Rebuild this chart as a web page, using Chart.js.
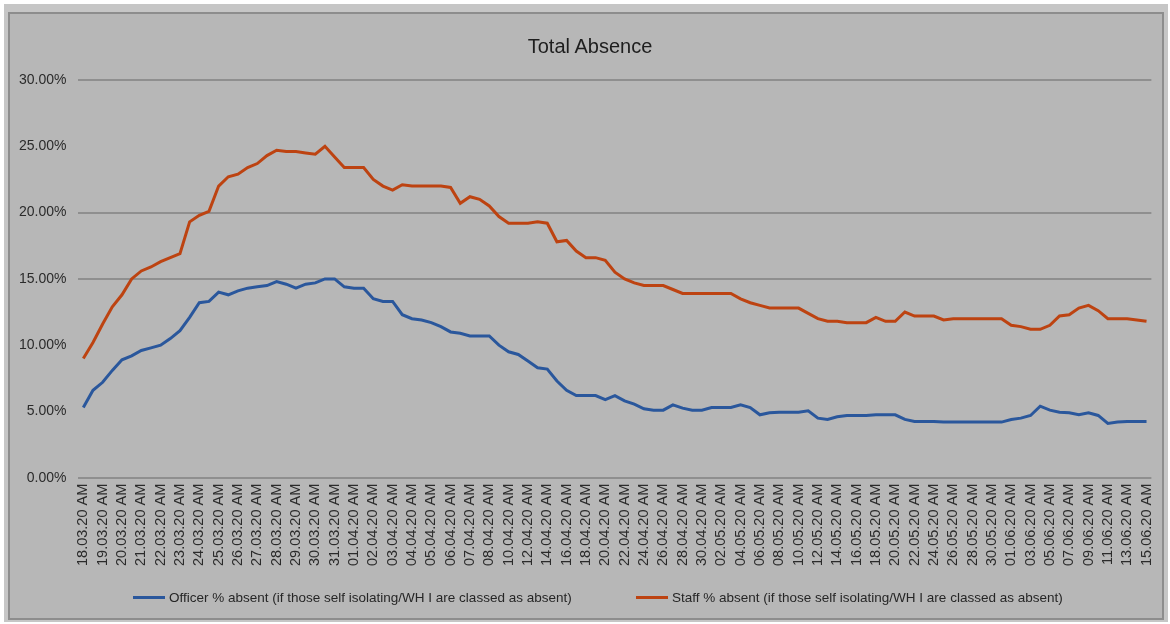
<!DOCTYPE html>
<html>
<head>
<meta charset="utf-8">
<title>Total Absence</title>
<script src="https://cdn.jsdelivr.net/npm/chart.js@4.4.1/dist/chart.umd.min.js"></script>
<style>
    html, body { margin: 0; padding: 0; background: #ffffff; }
    .page { position: relative; width: 1170px; height: 624px; overflow: hidden; font-family: "Liberation Sans", Arial, sans-serif; }
    .outer { position: absolute; left: 4px; top: 4px; width: 1164px; height: 618px; background: #c6c6c6; }
    .frame { position: absolute; left: 8px; top: 12px; width: 1152px; height: 604px; background: #b7b7b7; border: 2px solid #8d8d8d; }
    canvas { position: absolute; left: 0; top: 0; }
    .chart-title { position: absolute; left: 390px; width: 400px; top: 34px; text-align: center; font-size: 20px; line-height: 24px; color: #1e1e1e; }
    .legend { position: absolute; top: 589px; left: 0; height: 16px; font-size: 13.5px; color: #262626; white-space: nowrap; }
    .legend-item { position: absolute; top: 0; display: flex; align-items: center; height: 16px; }
    .legend-swatch { display: inline-block; width: 32px; height: 3px; margin-right: 4px; }
</style>
</head>
<body>
<div class="page">
    <div class="outer"></div>
    <div class="frame"></div>
    <canvas id="absenceChart" width="1170" height="624"></canvas>
    <div class="chart-title" id="chartTitle"></div>
    <div class="legend" id="legend"></div>
</div>
<script>
/* global Chart */

const chartTitle = 'Total Absence';

const tickLabels = [
    '18.03.20 AM', '19.03.20 AM', '20.03.20 AM', '21.03.20 AM', '22.03.20 AM', '23.03.20 AM', '24.03.20 AM',
    '25.03.20 AM', '26.03.20 AM', '27.03.20 AM', '28.03.20 AM', '29.03.20 AM', '30.03.20 AM', '31.03.20 AM',
    '01.04.20 AM', '02.04.20 AM', '03.04.20 AM', '04.04.20 AM', '05.04.20 AM', '06.04.20 AM', '07.04.20 AM',
    '08.04.20 AM', '10.04.20 AM', '12.04.20 AM', '14.04.20 AM', '16.04.20 AM', '18.04.20 AM', '20.04.20 AM',
    '22.04.20 AM', '24.04.20 AM', '26.04.20 AM', '28.04.20 AM', '30.04.20 AM', '02.05.20 AM', '04.05.20 AM',
    '06.05.20 AM', '08.05.20 AM', '10.05.20 AM', '12.05.20 AM', '14.05.20 AM', '16.05.20 AM', '18.05.20 AM',
    '20.05.20 AM', '22.05.20 AM', '24.05.20 AM', '26.05.20 AM', '28.05.20 AM', '30.05.20 AM', '01.06.20 AM',
    '03.06.20 AM', '05.06.20 AM', '07.06.20 AM', '09.06.20 AM', '11.06.20 AM', '13.06.20 AM', '15.06.20 AM'
];

// two readings per labelled tick, the unlabelled one in between
const officerAbsent = [
    5.3, 6.6, 7.2, 8.1, 8.9, 9.2, 9.6, 9.8, 10.0, 10.5,
    11.1, 12.1, 13.2, 13.3, 14.0, 13.8, 14.1, 14.3, 14.4, 14.5,
    14.8, 14.6, 14.3, 14.6, 14.7, 15.0, 15.0, 14.4, 14.3, 14.3,
    13.5, 13.3, 13.3, 12.3, 12.0, 11.9, 11.7, 11.4, 11.0, 10.9,
    10.7, 10.7, 10.7, 10.0, 9.5, 9.3, 8.8, 8.3, 8.2, 7.3,
    6.6, 6.2, 6.2, 6.2, 5.9, 6.2, 5.8, 5.55, 5.2, 5.1,
    5.1, 5.5, 5.25, 5.1, 5.1, 5.3, 5.3, 5.3, 5.5, 5.3,
    4.75, 4.9, 4.95, 4.95, 4.95, 5.05, 4.5, 4.4, 4.6, 4.7,
    4.7, 4.7, 4.75, 4.75, 4.75, 4.4, 4.25, 4.25, 4.25, 4.2,
    4.2, 4.2, 4.2, 4.2, 4.2, 4.2, 4.4, 4.5, 4.7, 5.4,
    5.1, 4.95, 4.9, 4.75, 4.9, 4.7, 4.1, 4.2, 4.25, 4.25, 4.25
];

const staffAbsent = [
    9.0, 10.2, 11.6, 12.9, 13.8, 15.0, 15.6, 15.9, 16.3, 16.6,
    16.9, 19.3, 19.8, 20.1, 22.0, 22.7, 22.9, 23.4, 23.7, 24.3,
    24.7, 24.6, 24.6, 24.5, 24.4, 25.0, 24.2, 23.4, 23.4, 23.4,
    22.5, 22.0, 21.7, 22.1, 22.0, 22.0, 22.0, 22.0, 21.9, 20.7,
    21.2, 21.0, 20.5, 19.7, 19.2, 19.2, 19.2, 19.3, 19.2, 17.8,
    17.9, 17.1, 16.6, 16.6, 16.4, 15.5, 15.0, 14.7, 14.5, 14.5,
    14.5, 14.2, 13.9, 13.9, 13.9, 13.9, 13.9, 13.9, 13.5, 13.2,
    13.0, 12.8, 12.8, 12.8, 12.8, 12.4, 12.0, 11.8, 11.8, 11.7,
    11.7, 11.7, 12.1, 11.8, 11.8, 12.5, 12.2, 12.2, 12.2, 11.9,
    12.0, 12.0, 12.0, 12.0, 12.0, 12.0, 11.5, 11.4, 11.2, 11.2,
    11.5, 12.2, 12.3, 12.8, 13.0, 12.6, 12.0, 12.0, 12.0, 11.9, 11.8
];

const seriesNames = [
    'Officer % absent (if those self isolating/WH I are classed as absent)',
    'Staff % absent (if those self isolating/WH I are classed as absent)'
];
const seriesColors = ['#2a579c', '#bd4311'];

const yTicks = [0, 5, 10, 15, 20, 25, 30];
const visibleGridValues = [0, 15, 20, 30];

const categories = [];
tickLabels.forEach((label, i) => {
    categories.push(label);
    if (i < tickLabels.length - 1) categories.push('');
});

const fontFamily = '"Liberation Sans", Arial, sans-serif';

document.addEventListener('DOMContentLoaded', () => {
    document.getElementById('chartTitle').textContent = chartTitle;

    const ctx = document.getElementById('absenceChart');
    new Chart(ctx, {
        type: 'line',
        data: {
            labels: categories,
            datasets: [
                {
                    label: seriesNames[0],
                    data: officerAbsent,
                    borderColor: seriesColors[0],
                    borderWidth: 3,
                    pointRadius: 0,
                    tension: 0
                },
                {
                    label: seriesNames[1],
                    data: staffAbsent,
                    borderColor: seriesColors[1],
                    borderWidth: 3,
                    pointRadius: 0,
                    tension: 0
                }
            ]
        },
        options: {
            responsive: false,
            animation: false,
            layout: {
                padding: { left: 7, right: 18, top: 80, bottom: 52 }
            },
            plugins: {
                title: { display: false },
                legend: { display: false },
                tooltip: { enabled: false }
            },
            scales: {
                x: {
                    offset: true,
                    grid: { display: false, drawTicks: false },
                    border: { display: false },
                    ticks: {
                        autoSkip: false,
                        maxRotation: 90,
                        minRotation: 90,
                        padding: 6,
                        color: '#2b2b2b',
                        font: { family: fontFamily, size: 14.5 }
                    }
                },
                y: {
                    min: 0,
                    max: 30,
                    afterBuildTicks: scale => {
                        scale.ticks = yTicks.map(value => ({ value }));
                    },
                    grid: {
                        drawTicks: false,
                        lineWidth: 2,
                        color: c => visibleGridValues.includes(c.tick.value) ? '#8f8f8f' : 'rgba(0,0,0,0)'
                    },
                    border: { display: false },
                    ticks: {
                        padding: 12,
                        color: '#2b2b2b',
                        font: { family: fontFamily, size: 14 },
                        callback: value => value.toFixed(2) + '%'
                    }
                }
            }
        }
    });

    renderLegend();
});

function renderLegend() {
    const lefts = [133, 636];
    const legend = document.getElementById('legend');
    legend.innerHTML = seriesNames.map((name, i) => `
        <div class="legend-item" style="left:${lefts[i]}px">
            <span class="legend-swatch" style="background:${seriesColors[i]}"></span>
            <span>${name}</span>
        </div>
    `).join('');
}
</script>
</body>
</html>
